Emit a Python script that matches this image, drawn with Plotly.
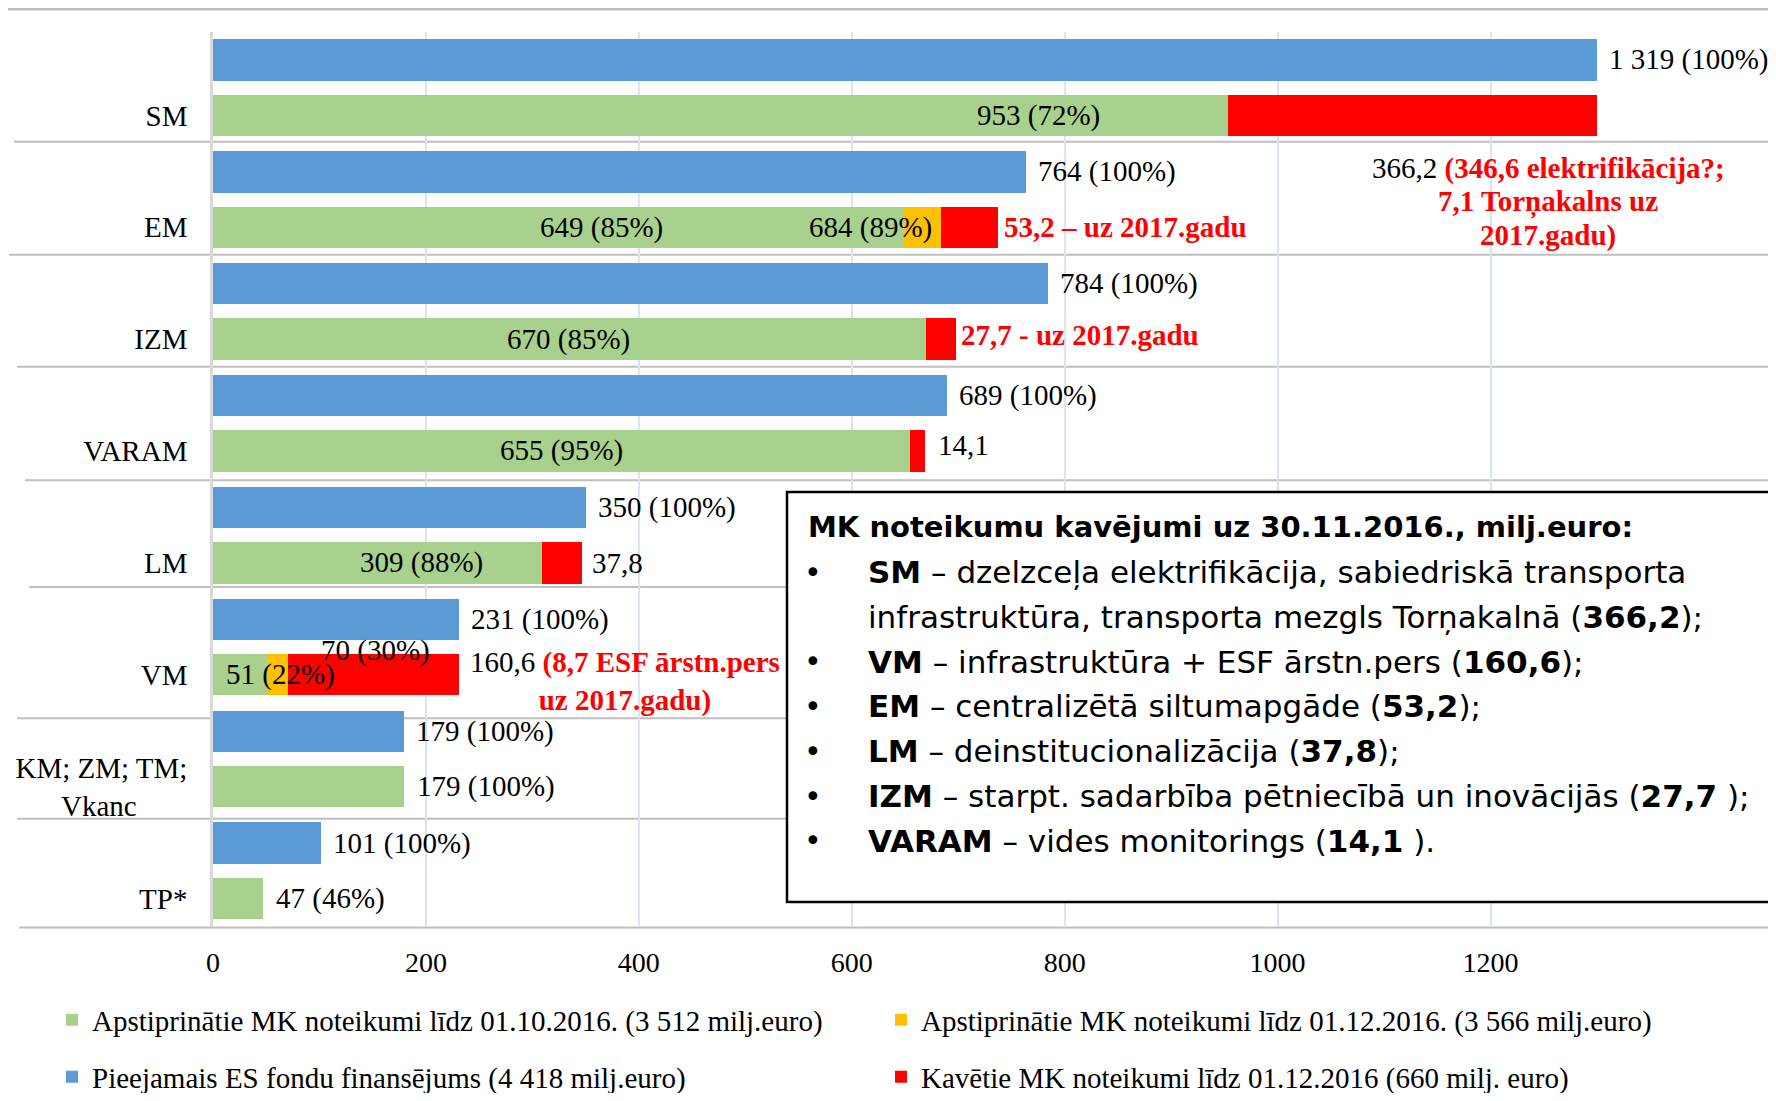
import plotly.graph_objects as go

# ---------------- data ----------------
categories = ["SM", "EM", "IZM", "VARAM", "LM", "VM",
              "KM; ZM; TM;<br>Vkanc" + "\u00a0" * 7, "TP*"]
available = [1319, 764, 784, 689, 350, 231, 179, 101]          # Pieejamais ES fondu finansējums
approved_oct = [953, 649, 670, 655, 309, 51, 179, 47]          # apstiprināti līdz 01.10.2016
approved_dec_add = [0, 35, 0, 0, 0, 19, 0, 0]                  # papildus apstiprināti līdz 01.12.2016
delayed = [366.2, 53.2, 27.7, 14.1, 37.8, 160.6, 0, 0]         # kavētie MK noteikumi

available_labels = ["1 319 (100%)", "764 (100%)", "784 (100%)", "689 (100%)",
                    "350 (100%)", "231 (100%)", "179 (100%)", "101 (100%)"]
approved_labels = ["953 (72%)", "649 (85%)", "670 (85%)", "655 (95%)",
                   "309 (88%)", "51 (22%)", "179 (100%)", "47 (46%)"]
approved_label_x = [775, 365, 334, 327, 196, 63, None, None]   # label centres inside bars
dec_labels = {1: ("684 (89%)", 617.5, 0.0), 5: ("70 (30%)", 153, 0.215)}

series_names = {
    "green": "Apstiprinātie MK noteikumi līdz 01.10.2016. (3 512 milj.euro)",
    "orange": "Apstiprinātie MK noteikumi līdz 01.12.2016. (3 566 milj.euro)",
    "blue": "Pieejamais ES fondu finansējums (4 418 milj.euro)",
    "red": "Kavētie MK noteikumi līdz 01.12.2016 (660 milj. euro)",
}

box_title = "MK noteikumu kavējumi uz 30.11.2016., milj.euro:"
box_lines = [
    ("•", "<b>SM</b> – dzelzceļa elektrifikācija, sabiedriskā transporta"),
    ("", "infrastruktūra, transporta mezgls Torņakalnā (<b>366,2</b>);"),
    ("•", "<b>VM</b> – infrastruktūra + ESF ārstn.pers (<b>160,6</b>);"),
    ("•", "<b>EM</b> – centralizētā siltumapgāde (<b>53,2</b>);"),
    ("•", "<b>LM</b> – deinstitucionalizācija (<b>37,8</b>);"),
    ("•", "<b>IZM</b> – starpt. sadarbība pētniecībā un inovācijās (<b>27,7</b> );"),
    ("•", "<b>VARAM</b> – vides monitorings (<b>14,1</b> )."),
]

# ---------------- style / layout constants ----------------
BLUE, GREEN, ORANGE, RED = "#5B9BD5", "#A9D18E", "#FFC000", "#FF0000"
SERIF = "Liberation Serif"
SANS = "DejaVu Sans"
X_MAX = 1300
BAR_W = 0.37

PAGE_OFF = 8                      # body margin of the html page
FIG_W, FIG_H = 1776 - 2 * PAGE_OFF, 1101 - 2 * PAGE_OFF
PL, PR, PT, PB = 213, 1597, 32, 927   # plot area in page pixels


def px_x(p):
    return (p - PL) / (PR - PL)


def px_y(p):
    return (PB - p) / (PB - PT)


n = len(categories)
pos = [n - 1 - i for i in range(n)]
blue_y = [p + 0.25 for p in pos]
green_y = [p - 0.245 for p in pos]

fig = go.Figure()
fig.add_trace(go.Bar(x=available, y=blue_y, orientation="h", width=BAR_W,
                     marker=dict(color=BLUE, line=dict(width=0)),
                     name=series_names["blue"], legend="legend3", hoverinfo="x"))
fig.add_trace(go.Bar(x=approved_oct, y=green_y, orientation="h", width=BAR_W,
                     marker=dict(color=GREEN, line=dict(width=0)),
                     name=series_names["green"], legend="legend", hoverinfo="x"))
fig.add_trace(go.Bar(x=approved_dec_add, y=green_y, orientation="h", width=BAR_W,
                     marker=dict(color=ORANGE, line=dict(width=0)),
                     name=series_names["orange"], legend="legend2", hoverinfo="x"))
fig.add_trace(go.Bar(x=delayed, y=green_y, orientation="h", width=BAR_W,
                     marker=dict(color=RED, line=dict(width=0)),
                     name=series_names["red"], legend="legend4", hoverinfo="x"))

ann = []
lab_font = dict(family=SERIF, size=29, color="black")
red_font = dict(family=SERIF, size=29, color=RED)

# blue labels
for i in range(n):
    ann.append(dict(x=min(available[i], X_MAX), y=blue_y[i], text=available_labels[i],
                    xanchor="left", yanchor="middle", xshift=10, showarrow=False, font=lab_font))
# green labels
for i in range(n):
    if approved_label_x[i] is not None:
        ann.append(dict(x=approved_label_x[i], y=green_y[i], text=approved_labels[i],
                        xanchor="center", yanchor="middle", showarrow=False, font=lab_font))
    else:
        ann.append(dict(x=approved_oct[i] + approved_dec_add[i] + delayed[i], y=green_y[i],
                        text=approved_labels[i], xanchor="left", yanchor="middle", xshift=11,
                        showarrow=False, font=lab_font))
# orange labels
for i, (t, xc, dy) in dec_labels.items():
    ann.append(dict(x=xc, y=green_y[i] + dy, text=t, xanchor="center", yanchor="middle",
                    showarrow=False, font=lab_font))

ends = [approved_oct[i] + approved_dec_add[i] + delayed[i] for i in range(n)]
# red / delayed labels
ann.append(dict(x=ends[1], y=green_y[1], text="<b>53,2 – uz 2017.gadu</b>", xanchor="left",
                yanchor="middle", xshift=4, showarrow=False, font=red_font))
ann.append(dict(x=ends[2], y=green_y[2] + 0.04, text="<b>27,7 - uz 2017.gadu</b>", xanchor="left",
                yanchor="middle", xshift=3, showarrow=False, font=red_font))
ann.append(dict(x=ends[3], y=green_y[3] + 0.05, text="14,1", xanchor="left",
                yanchor="middle", xshift=11, showarrow=False, font=lab_font))
ann.append(dict(x=ends[4], y=green_y[4], text="37,8", xanchor="left",
                yanchor="middle", xshift=8, showarrow=False, font=lab_font))
ann.append(dict(x=ends[5], y=green_y[5] - 0.065,
                text='160,6 <span style="color:#FF0000"><b>(8,7 ESF ārstn.pers</b></span><br>'
                     '<span style="color:#FF0000"><b>uz 2017.gadu)</b></span>',
                xanchor="left", yanchor="middle", align="center", xshift=9,
                showarrow=False, font=lab_font))
sm_block = ['366,2 <span style="color:#FF0000"><b>(346,6 elektrifikācija?;</b></span>',
            '<span style="color:#FF0000"><b>7,1 Torņakalns uz</b></span>',
            '<span style="color:#FF0000"><b>2017.gadu)</b></span>']
for k, t in enumerate(sm_block):
    ann.append(dict(x=1254, y=pos[0] - 0.722 - 0.298 * k, text=t, xanchor="center",
                    yanchor="middle", showarrow=False, font=lab_font))

# text box content
ann.append(dict(xref="paper", yref="paper", x=px_x(806), y=px_y(527), text="<b>" + box_title + "</b>",
                xanchor="left", yanchor="middle", showarrow=False,
                font=dict(family=SANS, size=29, color="black")))
for k, (b, t) in enumerate(box_lines):
    yy = px_y(572 + 44.8 * k)
    if b:
        ann.append(dict(xref="paper", yref="paper", x=px_x(813), y=yy, text=b, xanchor="center",
                        yanchor="middle", showarrow=False, font=dict(family=SANS, size=30, color="black")))
    ann.append(dict(xref="paper", yref="paper", x=px_x(866), y=yy, text=t, xanchor="left",
                    yanchor="middle", showarrow=False, font=dict(family=SANS, size=31, color="black")))

shapes = []
# horizontal separators (page y, page left x)
separators = [(141.7, 14), (254.7, 9), (366.7, 17), (480.3, 25), (587, 29), (718.3, 17), (818.7, 17), (927.5, 19)]
for (yp, xl) in separators:
    shapes.append(dict(type="line", xref="paper", yref="paper", x0=px_x(xl), x1=px_x(1790),
                       y0=px_y(yp), y1=px_y(yp), line=dict(color="#BFBFBF", width=2), layer="below"))
# top rule
shapes.append(dict(type="line", xref="paper", yref="paper", x0=px_x(0), x1=px_x(1790),
                   y0=px_y(9), y1=px_y(9), line=dict(color="#BFBFBF", width=3), layer="above"))
# text box
shapes.append(dict(type="rect", xref="paper", yref="paper", x0=px_x(787), x1=px_x(1800),
                   y0=px_y(902), y1=px_y(492), fillcolor="white",
                   line=dict(color="black", width=2.5), layer="above"))


def legend_at(xp, yp):
    return dict(orientation="h", x=px_x(xp), y=px_y(yp), xanchor="left", yanchor="middle",
                xref="paper", yref="paper",
                font=dict(family=SERIF, size=29, color="black"), bgcolor="rgba(0,0,0,0)")


fig.update_layout(
    width=FIG_W, height=FIG_H,
    margin=dict(l=PL - PAGE_OFF, r=FIG_W - (PR - PAGE_OFF), t=PT - PAGE_OFF, b=FIG_H - (PB - PAGE_OFF),
                autoexpand=False),
    barmode="stack", bargap=0,
    plot_bgcolor="white", paper_bgcolor="white",
    font=dict(family=SERIF, color="black"),
    annotations=ann, shapes=shapes,
    xaxis=dict(range=[0, X_MAX], tickvals=[0, 200, 400, 600, 800, 1000, 1200],
               showgrid=True, gridcolor="#DAE5F2", gridwidth=1.5, zeroline=False,
               showline=False, ticks="", tickfont=dict(family=SERIF, size=28, color="black"),
               ticklabelstandoff=16, fixedrange=True, automargin=False),
    yaxis=dict(range=[-0.5, n - 0.5], tickvals=green_y, ticktext=categories,
               showgrid=False, zeroline=False, showline=True, linecolor="#D9D9D9", linewidth=2.5,
               ticks="", tickfont=dict(family=SERIF, size=29, color="black"),
               ticklabelstandoff=17, fixedrange=True, automargin=False),
    legend=legend_at(52, 1020),
    legend2=legend_at(881, 1020),
    legend3=legend_at(52, 1077),
    legend4=legend_at(881, 1077),
    showlegend=True,
)

fig.write_html("out.html")
